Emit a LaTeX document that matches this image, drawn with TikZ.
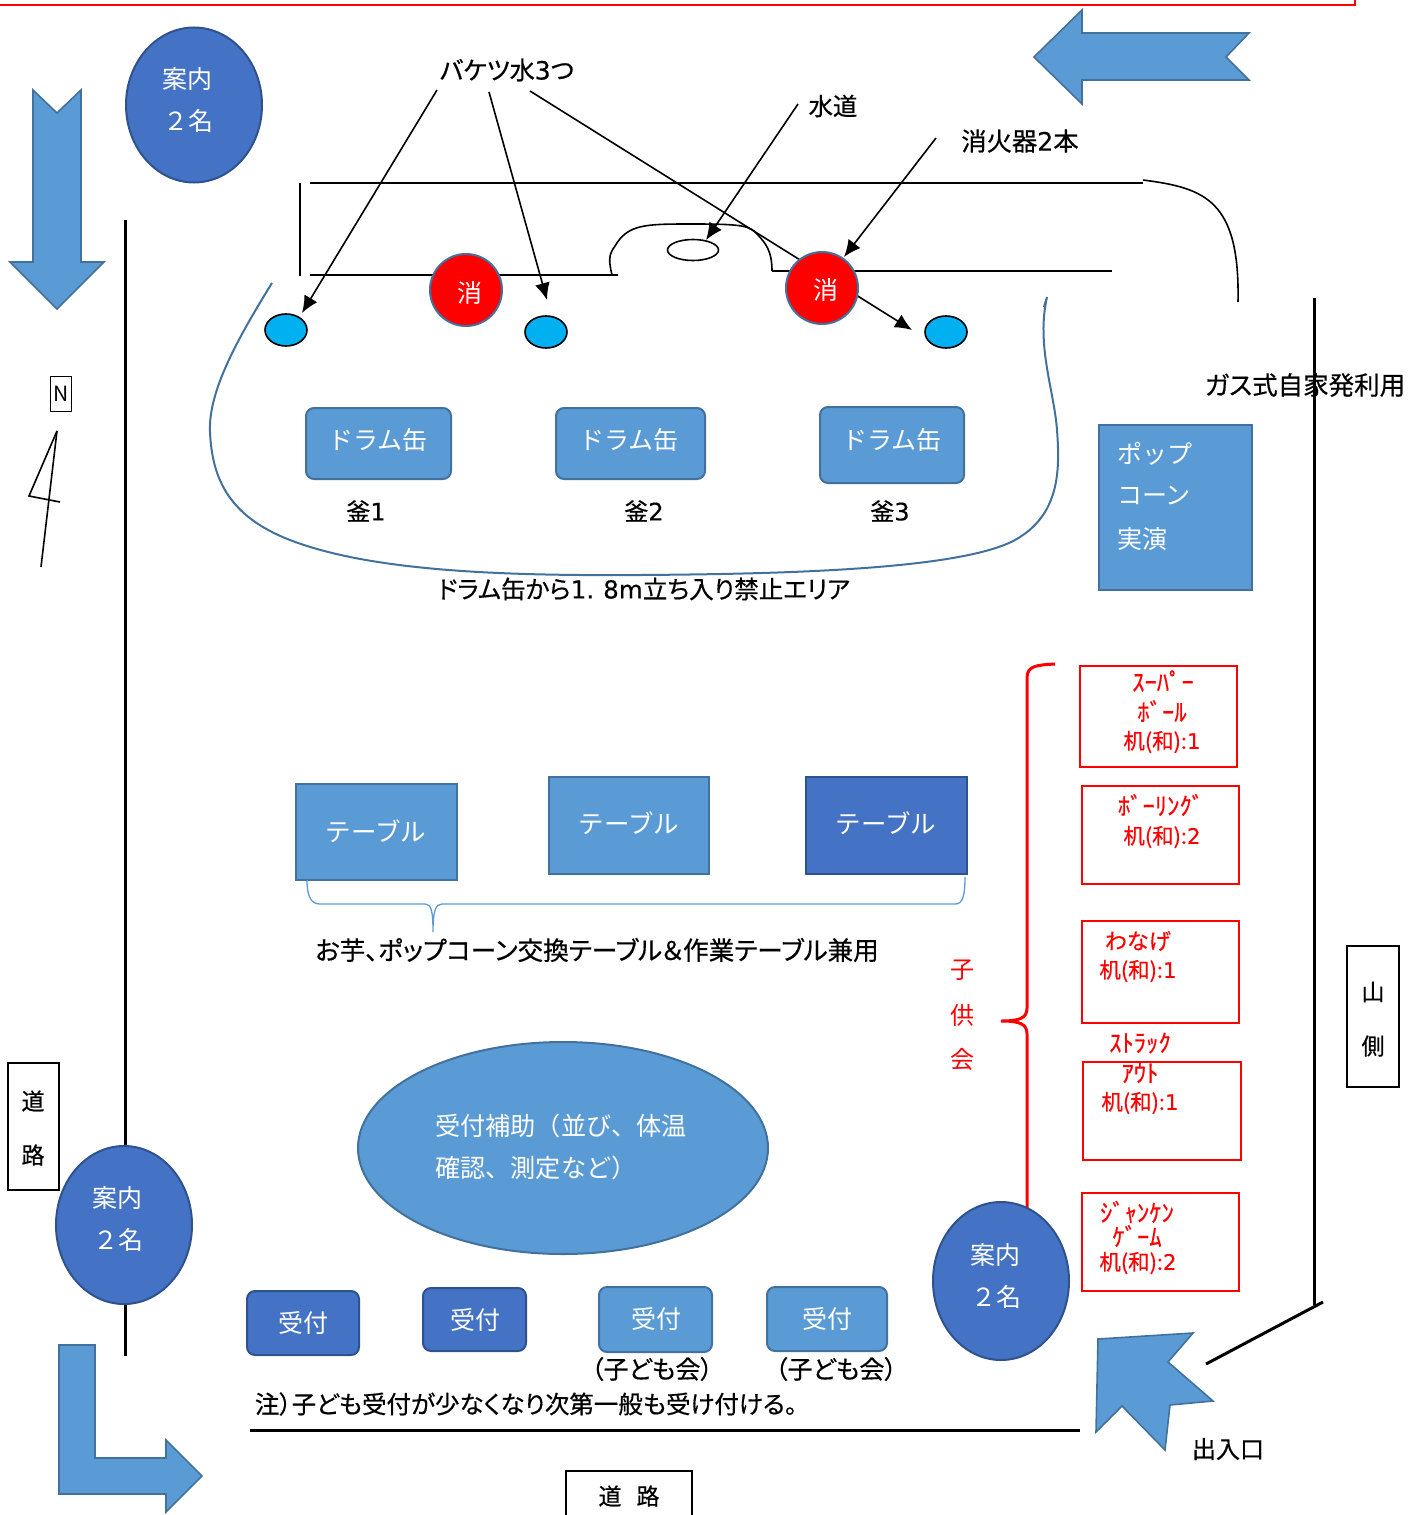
\documentclass[tikz,border=0pt]{standalone}
\usepackage{fontspec}
\setmainfont{Noto Sans CJK JP}
\newfontfamily\blk[FakeBold=0.5,RawFeature={+palt}]{Noto Sans CJK JP}
\newfontfamily\rdf[FakeBold=0.5]{Noto Sans CJK JP}
\newfontfamily\dgb[FakeBold=0.3]{DejaVu Sans}
\usetikzlibrary{arrows.meta,shapes.geometric}
\definecolor{lb}{HTML}{5B9BD5}
\definecolor{lbe}{HTML}{41719C}
\definecolor{db}{HTML}{4472C4}
\definecolor{dbe}{HTML}{2F528F}
\definecolor{cy}{HTML}{00B0F0}
\newcommand{\fz}[1]{\fontsize{#1pt}{#1pt}\selectfont}
\newcommand{\dg}[1]{{\dgb #1}}
\tikzset{
  x=1pt,y=-1pt,
  txt/.style={inner sep=0pt,outer sep=0pt,font=\blk\fz{24},text=black},
  wtxt/.style={inner sep=0pt,outer sep=0pt,font=\fz{25},text=white},
  rtxt/.style={inner sep=0pt,outer sep=0pt,font=\rdf\fz{21.5},text=red},
  ktxt/.style={inner sep=0pt,outer sep=0pt,font=\rdf\fz{24.6},text=red},
  rtxtb/.style={inner sep=0pt,outer sep=0pt,font=\fz{24},text=red},
  blockarrow/.style={fill=lb,draw=lbe,line width=1.6pt,line join=miter},
  lightbox/.style={fill=lb,draw=lbe,line width=2pt},
  darkbox/.style={fill=db,draw=dbe,line width=2pt},
  redbox/.style={draw=red,line width=1.6pt},
  blackbox/.style={draw=black,line width=1.6pt},
  conn/.style={draw=black,line width=1.6pt},
  arr/.style={conn,-{Latex[length=17pt,width=15pt]}},
  thick3/.style={draw=black,line width=3pt},
}
\begin{document}
\begin{tikzpicture}
\useasboundingbox (0,0) rectangle (1419,1515);
% top red border
\draw[red,line width=1.4pt] (0,5) -- (1355,5) -- (1355,0);
% road lines
\coordinate (wa) at (125,220); \coordinate (wb) at (125,1356);
\draw[thick3] (wa) -- (wb);
\coordinate (ea) at (1314,298); \coordinate (eb) at (1314,1305);
\draw[thick3] (ea) -- (eb);
\coordinate (gsa) at (1323,1302); \coordinate (gsb) at (1206,1364);
\draw[thick3] (gsa) -- (gsb);
\coordinate (sa) at (250,1430); \coordinate (sb) at (1080,1430);
\draw[thick3] (sa) -- (sb);
% building
\coordinate (ba) at (310,183); \coordinate (bb) at (1143,183);
\coordinate (bc) at (300,183); \coordinate (bd) at (300,276);
\coordinate (be) at (310,275); \coordinate (bf) at (618,275);
\coordinate (bg) at (772,271); \coordinate (bh) at (1112,271);
\draw[conn] (ba) -- (bb);
\draw[conn] (bc) -- (bd);
\draw[conn] (be) -- (bf);
\draw[conn] (bg) -- (bh);
\draw[conn] (1143,180) .. controls (1205,188) and (1240,200) .. (1238,302);
\draw[conn] (612,275) .. controls (609,262) and (608,255) .. (615,246)
  .. controls (628,224) and (645,224) .. (693,224)
  .. controls (745,224) and (750,226) .. (758,235)
  .. controls (765,243) and (772,250) .. (772,271);
% forbidden area
\draw[lbe,line width=2pt] (272,283) .. controls (240,335) and (208,390) .. (210,432)
  .. controls (212,474) and (225,515) .. (290,540)
  .. controls (370,571) and (500,576) .. (640,575)
  .. controls (780,574) and (960,570) .. (1015,540)
  .. controls (1060,515) and (1060,470) .. (1057,430)
  .. controls (1054,390) and (1036,345) .. (1047,297) -- (1044,307);
% labels of arrows
\node[txt,font=\blk\fz{25}] (bk) at (507,70) {バケツ水\dg{3}つ};
\node[txt,font=\blk\fz{24.4}] (wt) at (833,106) {水道};
\node[txt,font=\blk\fz{25.3}] (ex) at (1020,141) {消火器\dg{2}本};
\node[txt,font=\blk\fz{25.5}] (gas) at (1305,385) {ガス式自家発利用};
% ellipses
\node[ellipse,draw=black,line width=1.6pt,minimum width=51pt,minimum height=21pt,inner sep=0pt] (sink) at (693,250) {};
\node[ellipse,draw=black,fill=cy,line width=1.6pt,minimum width=42pt,minimum height=32pt,inner sep=0pt] (b1) at (286,330) {};
\node[ellipse,draw=black,fill=cy,line width=1.6pt,minimum width=42pt,minimum height=32pt,inner sep=0pt] (b2) at (546,332) {};
\node[ellipse,draw=black,fill=cy,line width=1.6pt,minimum width=42pt,minimum height=32pt,inner sep=0pt] (b3) at (946,332) {};
% arrows
\coordinate (k1) at (437,90); \coordinate (k1t) at (302,313);
\coordinate (k2) at (489,92); \coordinate (k2t) at (547,300);
\coordinate (k3) at (530,91); \coordinate (k3t) at (912,330);
\coordinate (w1) at (798,104); \coordinate (w1t) at (706,240);
\coordinate (x1) at (936,138); \coordinate (x1t) at (844,257);
\draw[arr] (k1) -- (k1t);
\draw[arr] (k2) -- (k2t);
\draw[arr] (k3) -- (k3t);
\draw[arr] (w1) -- (w1t);
\draw[arr] (x1) -- (x1t);
% red circles
\node[circle,fill=red,draw=lbe,line width=2pt,minimum size=72pt,inner sep=0pt] (c1) at (466,290) {};
\node[circle,fill=red,draw=lbe,line width=2pt,minimum size=72pt,inner sep=0pt] (c2) at (822,288) {};
\node[wtxt] (c1t) at (470,293) {消};
\node[wtxt] (c2t) at (826,290) {消};
% block arrows
\draw[blockarrow] (1034,57) -- (1082,10) -- (1082,33) -- (1249,33) -- (1226,57) -- (1249,80) -- (1082,80) -- (1082,104) -- cycle;
\draw[blockarrow] (33,90) -- (57,113) -- (81,90) -- (81,262) -- (104,262) -- (57,309) -- (10,262) -- (33,262) -- cycle;
\draw[blockarrow] (59,1345) -- (95,1345) -- (95,1458) -- (166,1458) -- (166,1440) -- (202,1476) -- (166,1512) -- (166,1494) -- (59,1494) -- cycle;
\draw[blockarrow] (1098,1339) -- (1193,1333) -- (1168,1362) -- (1213,1401) -- (1170,1405) -- (1165,1450) -- (1122,1406) -- (1096,1432) -- cycle;
% drums
\draw[lightbox,rounded corners=8pt] (306,408) rectangle (451,479);
\draw[lightbox,rounded corners=8pt] (556,408) rectangle (705,479);
\draw[lightbox,rounded corners=8pt] (820,407) rectangle (964,483);
\node[wtxt] (d1) at (378,440) {ドラム缶};
\node[wtxt] (d2) at (629,440) {ドラム缶};
\node[wtxt] (d3) at (892,440) {ドラム缶};
\node[txt] (k1l) at (366,511) {釜\dg{1}};
\node[txt] (k2l) at (644,511) {釜\dg{2}};
\node[txt] (k3l) at (890,511) {釜\dg{3}};
\node[txt,font=\blk\fz{24.6}] (area) at (644,589) {ドラム缶から\dg{1.\kern9pt 8m}立ち入り禁止エリア};
% popcorn
\draw[lightbox] (1099,425) rectangle (1252,590);
\node[wtxt,anchor=west] (p1) at (1117,454) {ポップ};
\node[wtxt,anchor=west] (p2) at (1117,496) {コーン};
\node[wtxt,anchor=west] (p3) at (1117,539) {実演};
% compass
\node[draw=black,line width=1.6pt,minimum width=21pt,minimum height=35pt,inner sep=0pt,font=\fz{21}] (n) at (61,394) {N};
\coordinate (na) at (57,431); \coordinate (nb) at (41,567); \coordinate (nc) at (29,496); \coordinate (nd) at (60,502);
\draw[conn] (na) -- (nb);
\draw[conn] (na) -- (nc) -- (nd);
% tables
\draw[lightbox] (296,784) rectangle (457,880);
\draw[lightbox] (549,777) rectangle (709,874);
\draw[darkbox] (806,777) rectangle (967,874);
\node[wtxt,font=\fz{25.5}] (t1) at (376,831) {テーブル};
\node[wtxt,font=\fz{25.5}] (t2) at (629,823) {テーブル};
\node[wtxt,font=\fz{25.5}] (t3) at (886,823) {テーブル};
\draw[lb,line width=1.3pt] (307,880) .. controls (307,898) and (312,904) .. (320,904) -- (425,904)
  .. controls (431,904) and (433,910) .. (433,932)
  .. controls (433,910) and (436,904) .. (442,904) -- (955,904)
  .. controls (962,904) and (965,898) .. (965,877);
\node[txt,font=\blk\fz{25.6}] (tl) at (597,950) {お芋、ポップコーン交換テーブル＆作業テーブル兼用};
% red brace
\draw[red,line width=3pt] (1055,664) .. controls (1036,665) and (1027,666) .. (1027,678) -- (1027,1008)
  .. controls (1027,1018) and (1020,1021) .. (1001,1021)
  .. controls (1020,1021) and (1027,1024) .. (1027,1034) -- (1027,1210);
\node[rtxtb] (kd1) at (962,970) {子};
\node[rtxtb] (kd2) at (962,1015) {供};
\node[rtxtb] (kd3) at (962,1059) {会};
% red boxes
\draw[redbox] (1080,666) rectangle (1237,767);
\draw[redbox] (1082,786) rectangle (1239,884);
\draw[redbox] (1082,921) rectangle (1239,1023);
\draw[redbox] (1083,1062) rectangle (1241,1160);
\draw[redbox] (1082,1193) rectangle (1239,1291);
\node[ktxt] (r1) at (1163,681) {ｽｰﾊﾟｰ};
\node[ktxt] (r2) at (1162,711) {ﾎﾞｰﾙ};
\node[rtxt] (r3) at (1162,742) {机(和):\dg{1}};
\node[ktxt] (r4) at (1161,805) {ﾎﾞｰﾘﾝｸﾞ};
\node[rtxt] (r5) at (1162,837) {机(和):\dg{2}};
\node[rtxt,font=\rdf\fz{22}] (r6) at (1138,941) {わなげ};
\node[rtxt] (r7) at (1138,971) {机(和):\dg{1}};
\node[ktxt] (r8) at (1140,1043) {ｽﾄﾗｯｸ};
\node[ktxt] (r9) at (1140,1073) {ｱｳﾄ};
\node[rtxt] (r10) at (1140,1103) {机(和):\dg{1}};
\node[ktxt] (r11) at (1137,1212) {ｼﾞｬﾝｹﾝ};
\node[ktxt] (r12) at (1137,1236) {ｹﾞｰﾑ};
\node[rtxt] (r13) at (1138,1263) {机(和):\dg{2}};
% road boxes
\draw[blackbox] (8,1063) rectangle (59,1190);
\node[txt,font=\blk\fz{23}] (rl1) at (33,1101) {道};
\node[txt,font=\blk\fz{23}] (rl2) at (33,1155) {路};
\draw[blackbox] (566,1516) -- (566,1471) -- (692,1471) -- (692,1516);
\node[txt,font=\blk\fz{23}] (rb1) at (610,1496) {道};
\node[txt,font=\blk\fz{23}] (rb2) at (648,1496) {路};
\draw[blackbox] (1347,946) rectangle (1399,1087);
\node[txt,font=\blk\fz{23}] (m1) at (1373,992) {山};
\node[txt,font=\blk\fz{23}] (m2) at (1373,1046) {側};
% guide ellipses
\node[ellipse,darkbox,minimum width=136pt,minimum height=155pt,inner sep=0pt] (g1) at (194,105) {};
\node[wtxt] (g1a) at (187,79) {案内};
\node[wtxt] (g1b) at (188,121) {２名};
\node[ellipse,darkbox,minimum width=136pt,minimum height=158pt,inner sep=0pt] (g2) at (124,1225) {};
\node[wtxt] (g2a) at (117,1198) {案内};
\node[wtxt] (g2b) at (118,1240) {２名};
\node[ellipse,darkbox,minimum width=136pt,minimum height=158pt,inner sep=0pt] (g3) at (1001,1281) {};
\node[wtxt] (g3a) at (995,1255) {案内};
\node[wtxt] (g3b) at (996,1297) {２名};
% reception helper
\node[ellipse,lightbox,minimum width=410pt,minimum height=212pt,inner sep=0pt] (h) at (563,1148) {};
\node[wtxt,font=\fz{25.2},anchor=west] (h1) at (435,1126) {受付補助（並び、体温};
\node[wtxt,font=\fz{25.2},anchor=west] (h2) at (435,1168) {確認、測定など）};
% reception
\draw[darkbox,rounded corners=8pt] (247,1291) rectangle (359,1355);
\draw[darkbox,rounded corners=8pt] (423,1288) rectangle (526,1351);
\draw[lightbox,rounded corners=8pt] (599,1287) rectangle (712,1352);
\draw[lightbox,rounded corners=8pt] (767,1287) rectangle (887,1351);
\node[wtxt] (u1) at (303,1323) {受付};
\node[wtxt] (u2) at (475,1320) {受付};
\node[wtxt] (u3) at (656,1319) {受付};
\node[wtxt] (u4) at (827,1319) {受付};
\node[txt,font=\blk\fz{25}] (o1) at (652,1369) {（子ども会）};
\node[txt,font=\blk\fz{25}] (o2) at (836,1369) {（子ども会）};
\node[txt,font=\blk\fz{24.5}] (note) at (526,1404) {注）子ども受付が少なくなり次第一般も受け付ける。};
\node[txt] (exit) at (1228,1449) {出入口};
\end{tikzpicture}
\end{document}
